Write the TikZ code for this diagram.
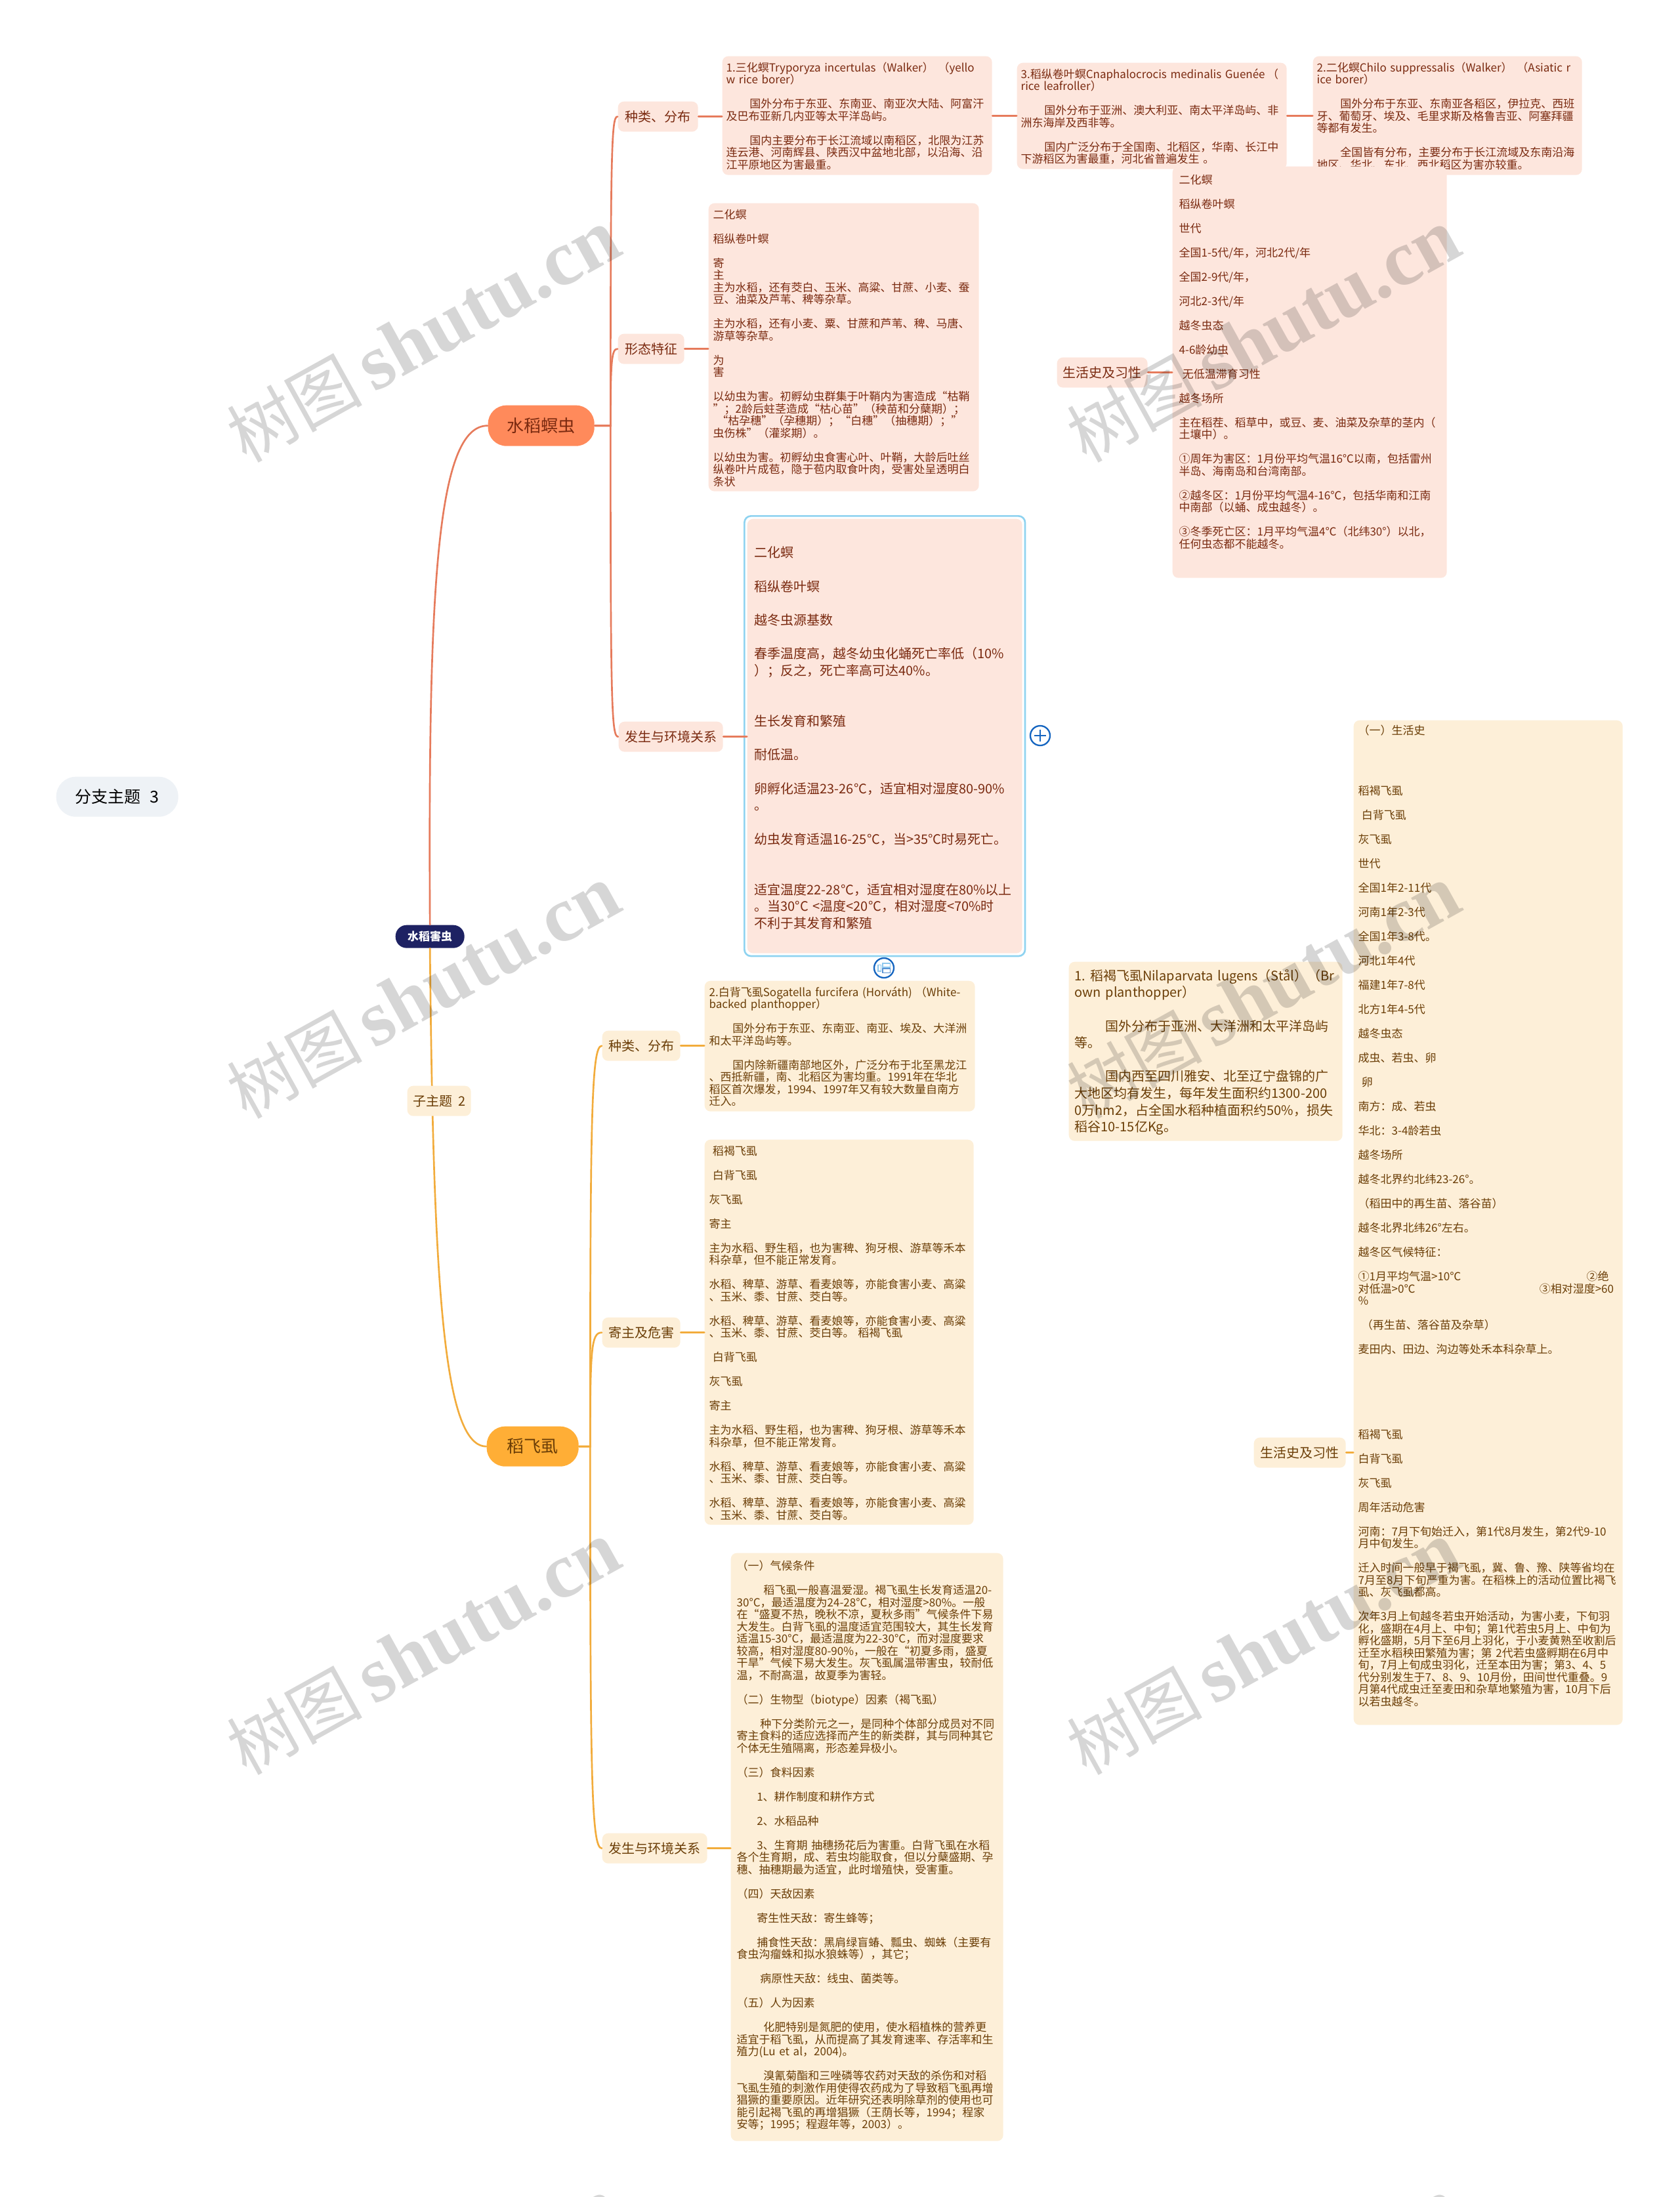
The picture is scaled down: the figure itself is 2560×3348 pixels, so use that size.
\documentclass[tikz,border=0pt]{standalone}
\usepackage{fontspec}
\setmainfont{Noto Sans CJK SC}
\newfontfamily\markfont{Liberation Serif}
\usepackage{xcolor}
\definecolor{pinkfill}{HTML}{FDE6DD}
\definecolor{pinktext}{HTML}{7A2A10}
\definecolor{pinkline}{HTML}{E67B5C}
\definecolor{pinktopic}{HTML}{FF8A5B}
\definecolor{orangefill}{HTML}{FDEFD8}
\definecolor{orangetext}{HTML}{6B3E07}
\definecolor{orangeline}{HTML}{F2AC3C}
\definecolor{orangetopic}{HTML}{FFAE36}
\definecolor{hubfill}{HTML}{1E2263}
\definecolor{floatfill}{HTML}{EEF2F6}
\definecolor{framecolor}{HTML}{8FD3F0}
\definecolor{iconblue}{HTML}{1565C0}
\definecolor{iconlight}{HTML}{8EC8EE}
\def\px{0.3pt}
\newcommand{\pindent}[1]{\hspace*{#1em}}
\newcommand{\gapline}{\mbox{}\\}
\lefthyphenmin=64
\normallineskiplimit=-100pt
\lineskiplimit=-100pt
\tikzset{
  smallfont/.style={font=\fontsize{5.1}{5.55}\selectfont},
  largefont/.style={font=\fontsize{6}{7.7}\selectfont},
  note/.style n args={4}{anchor=north west,rounded corners=2.7pt,inner ysep=0pt,inner xsep=#4*\px,
    text width={(#1-2*#4)*\px},text height={#3*\px},text depth={(#2-#3)*\px},align=left},
  pill/.style n args={3}{anchor=north west,inner sep=0pt,minimum width=#1*\px,minimum height=#2*\px,
    rounded corners=#3*\px,align=center},
  pinknote/.style={fill=pinkfill,text=pinktext},
  orangenote/.style={fill=orangefill,text=orangetext},
  branch/.style={pill={#1}{46}{9},font=\fontsize{6}{7}\selectfont},
  pinkwire/.style={draw=pinkline,line width=0.8pt,line cap=round},
  orangewire/.style={draw=orangeline,line width=0.8pt,line cap=round},
  iconring/.style={circle,draw=iconblue,line width=0.7pt,fill=white,inner sep=0pt,minimum size=9pt},
  watermark/.style={rotate=29,text=black,text opacity=0.16,inner sep=0pt}
}
\newcommand{\marktext}{{\fontsize{31}{32}\selectfont 树图}\hspace{5pt}{\markfont\bfseries\fontsize{36}{37}\selectfont shutu.cn}}
\begin{document}
\begin{tikzpicture}[x=0.3pt,y=-0.3pt]
    \useasboundingbox (0,0) rectangle (2560,3348);
    % free topic
    \node[pill={186}{61}{30},fill=floatfill,font=\fontsize{7.5}{9}\selectfont] (floating) at (85,1183) {分支主题\hspace{0.55em}3};
    % hub and main topics
    \node[pill={105}{35}{17},fill=hubfill,text=white,font=\fontsize{5.1}{6}\selectfont\bfseries] (hub) at (602,1409) {水稻害虫};
    \node[pill={162}{62}{28},fill=pinktopic,text=pinktext,font=\fontsize{7.8}{9}\selectfont] (borer) at (743,617) {水稻螟虫};
    \node[pill={140}{61}{28},fill=orangetopic,text=orangetext,font=\fontsize{7.8}{9}\selectfont] (hopper) at (741,2173) {稻飞虱};
    % main curves
    \draw[pinkwire] (hub.north) .. controls +(-3,-510) and +(-78,0) .. (borer.west);
    \draw[orangewire] (hub.south) .. controls +(5,507) and +(-66,0) .. (hopper.west);
    \node[branch=97,fill=orangefill,text=orangetext] (subtopic) at (620,1654) {子主题\hspace{0.45em}2};
    % borer branches
    \node[branch=122,fill=pinkfill,text=pinktext] (borerkind) at (941,154) {种类、分布};
    \node[branch=101,fill=pinkfill,text=pinktext] (borerform) at (941,508) {形态特征};
    \node[branch=159,fill=pinkfill,text=pinktext] (borerenv) at (942,1099) {发生与环境关系};
    \node[branch=138,fill=pinkfill,text=pinktext] (borerlife) at (1610,544) {生活史及习性};
    \draw[pinkwire] (borer.east) -- ++(24,0) .. controls +(0,-430) and +(-9,0) .. (borerkind.west);
    \draw[pinkwire] (borer.east) -- ++(24,0) .. controls +(0,-100) and +(-9,0) .. (borerform.west);
    \draw[pinkwire] (borer.east) -- ++(24,0) .. controls +(0,430) and +(-10,0) .. (borerenv.west);
    % borer notes, kinds
    \node[note={411}{181}{23.5}{6},pinknote,smallfont] (notesan) at (1100,85) {1.三化螟Tryporyza~incertulas（Walker）\hspace{0.4em}（yello\\
w~rice~borer）\\
\gapline
\pindent{2.1}国外分布于东亚、东南亚、南亚次大陆、阿富汗\\
及巴布亚新几内亚等太平洋岛屿。\\
\gapline
\pindent{2.1}国内主要分布于长江流域以南稻区，北限为江苏\\
连云港、河南辉县、陕西汉中盆地北部，以沿海、沿\\
江平原地区为害最重。};
    \node[note={411}{162}{23.5}{6},pinknote,smallfont] (notezong) at (1549,95) {3.稻纵卷叶螟Cnaphalocrocis~medinalis~Guenée\hspace{0.2em}（\\
rice~leafroller）\\
\gapline
\pindent{2.1}国外分布于亚洲、澳大利亚、南太平洋岛屿、非\\
洲东海岸及西非等。\\
\gapline
\pindent{2.1}国内广泛分布于全国南、北稻区，华南、长江中\\
下游稻区为害最重，河北省普遍发生~。};
    \node[note={410}{181}{23.5}{6},pinknote,smallfont] (noteer) at (2000,85) {2.二化螟Chilo~suppressalis（Walker）\hspace{0.4em}（Asiatic~r\\
ice~borer）\\
\gapline
\pindent{2.1}国外分布于东亚、东南亚各稻区，伊拉克、西班\\
牙、葡萄牙、埃及、毛里求斯及格鲁吉亚、阿塞拜疆\\
等都有发生。\\
\gapline
\pindent{2.1}全国皆有分布，主要分布于长江流域及东南沿海\\
地区、华北、东北、西北稻区为害亦较重。};
    \draw[pinkwire,line width=0.9pt] (borerkind.east) -- (borerkind.east -| notesan.west);
    \draw[pinkwire,line width=0.9pt] (notesan.east) -- (notesan.east -| notezong.west);
    \draw[pinkwire,line width=0.9pt] (notezong.east) -- (notezong.east -| noteer.west);
    % borer notes, form
    \node[note={412}{439}{23.5}{7},pinknote,smallfont] (noteform) at (1079,309) {二化螟\\
\gapline
稻纵卷叶螟\\
\gapline
寄\\
主\\
主为水稻，还有茭白、玉米、高粱、甘蔗、小麦、蚕\\
豆、油菜及芦苇、稗等杂草。\\
\gapline
主为水稻，还有小麦、粟、甘蔗和芦苇、稗、马唐、\\
游草等杂草。\\
\gapline
为\\
害\\
\gapline
以幼虫为害。初孵幼虫群集于叶鞘内为害造成“枯鞘\\
”；2龄后蛀茎造成“枯心苗”（秧苗和分蘖期）；\\
~“枯孕穗”（孕穗期）；“白穗”（抽穗期）；”\\
虫伤株”（灌浆期）。\\
\gapline
以幼虫为害。初孵幼虫食害心叶、叶鞘，大龄后吐丝\\
纵卷叶片成苞，隐于苞内取食叶肉，受害处呈透明白\\
条状};
    \draw[pinkwire,line width=0.9pt] (borerform.east) -- (borerform.east -| noteform.west);
    % borer notes, life history
    \node[note={418}{627}{26.5}{10},pinknote,smallfont] (notelife) at (1786,253) {二化螟\\
\gapline
稻纵卷叶螟\\
\gapline
世代\\
\gapline
全国1-5代/年，河北2代/年\\
\gapline
全国2-9代/年，\\
\gapline
河北2-3代/年\\
\gapline
越冬虫态\\
\gapline
4-6龄幼虫\\
\gapline
\pindent{0.3}无低温滞育习性\\
\gapline
越冬场所\\
\gapline
主在稻茬、稻草中，或豆、麦、油菜及杂草的茎内（\\
土壤中）。\\
\gapline
①周年为害区：1月份平均气温16℃以南，包括雷州\\
半岛、海南岛和台湾南部。\\
\gapline
②越冬区：1月份平均气温4-16℃，包括华南和江南\\
中南部（以蛹、成虫越冬）。\\
\gapline
③冬季死亡区：1月平均气温4℃（北纬30°）以北，\\
任何虫态都不能越冬。};
    \draw[pinkwire,line width=0.9pt] (borerlife.east) -- (borerlife.east -| notelife.west);
    % borer notes, environment, with frame and icons
    \node[note={419}{662}{59}{11},pinknote,largefont] (noteenv) at (1138,790) {二化螟\\
\gapline
稻纵卷叶螟\\
\gapline
越冬虫源基数\\
\gapline
春季温度高，越冬幼虫化蛹死亡率低（10\%\\
）；反之，死亡率高可达40\%。\\
\gapline
\gapline
生长发育和繁殖\\
\gapline
耐低温。\\
\gapline
卵孵化适温23-26°C，适宜相对湿度80-90\%\\
。\\
\gapline
幼虫发育适温16-25°C，当>35°C时易死亡。\\
\gapline
\gapline
适宜温度22-28°C，适宜相对湿度在80\%以上\\
。当30°C~<温度<20°C，相对湿度<70\%时\\
不利于其发育和繁殖};
    \draw[framecolor,line width=0.8pt,rounded corners=3pt] ([xshift=-1.1pt,yshift=1.1pt]noteenv.north west) rectangle ([xshift=1.1pt,yshift=-1.1pt]noteenv.south east);
    \draw[pinkwire,line width=0.9pt] (borerenv.east) -- (borerenv.east -| noteenv.west);
    \node[iconring] (addicon) at (1585,1121) {};
    \draw[iconblue,line width=0.7pt] ([xshift=-2.7pt]addicon.center) -- ([xshift=2.7pt]addicon.center);
    \draw[iconblue,line width=0.7pt] ([yshift=-2.7pt]addicon.center) -- ([yshift=2.7pt]addicon.center);
    \node[iconring] (listicon) at (1347,1475) {};
    \draw[iconlight,line width=0.5pt] ([xshift=-2.8pt,yshift=1.4pt]listicon.center) rectangle ([xshift=-1.4pt,yshift=-1.4pt]listicon.center);
    \draw[iconlight,line width=0.5pt] ([xshift=-0.6pt,yshift=2.2pt]listicon.center) rectangle ([xshift=2.8pt,yshift=0.3pt]listicon.center);
    \draw[iconblue!70,line width=0.5pt] ([xshift=-0.6pt,yshift=-0.3pt]listicon.center) rectangle ([xshift=2.8pt,yshift=-2.2pt]listicon.center);
    % planthopper branches
    \node[branch=119,fill=orangefill,text=orangetext] (hopperkind) at (917,1570) {种类、分布};
    \node[branch=119,fill=orangefill,text=orangetext] (hopperhost) at (917,2007) {寄主及危害};
    \node[branch=160,fill=orangefill,text=orangetext] (hopperenv) at (917,2793) {发生与环境关系};
    \node[branch=140,fill=orangefill,text=orangetext] (hopperlife) at (1910,2190) {生活史及习性};
    \draw[orangewire] (hopper.east) -- ++(17,0) .. controls +(0,-500) and +(-16,0) .. (hopperkind.west);
    \draw[orangewire] (hopper.east) -- ++(17,0) .. controls +(0,-150) and +(-16,0) .. (hopperhost.west);
    \draw[orangewire] (hopper.east) -- ++(17,0) .. controls +(0,500) and +(-16,0) .. (hopperenv.west);
    % planthopper notes
    \node[note={412}{199}{23.5}{7},orangenote,smallfont] (notewhite) at (1073,1494) {2.白背飞虱Sogatella~furcifera~(Horváth)\hspace{0.3em}（White-\\
backed~planthopper）\\
\gapline
\pindent{2.1}国外分布于东亚、东南亚、南亚、埃及、大洋洲\\
和太平洋岛屿等。\\
\gapline
\pindent{2.1}国内除新疆南部地区外，广泛分布于北至黑龙江\\
、西抵新疆，南、北稻区为害均重。1991年在华北\\
稻区首次爆发，1994、1997年又有较大数量自南方\\
迁入。};
    \node[note={417}{273}{28.6}{9},orangenote,font=\fontsize{6}{7.68}\selectfont] (notebrown) at (1628,1465) {1.~稻褐飞虱Nilaparvata~lugens（Stål）（Br\\
own~planthopper）\\
\gapline
\pindent{2.35}国外分布于亚洲、大洋洲和太平洋岛屿\\
等。\\
\gapline
\pindent{2.35}国内西至四川雅安、北至辽宁盘锦的广\\
大地区均有发生，每年发生面积约1300-200\\
0万hm2，占全国水稻种植面积约50\%，损失\\
稻谷10-15亿Kg。};
    \node[note={410}{587}{23.5}{7},orangenote,smallfont] (notehost) at (1073,1736) {\pindent{0.3}稻褐飞虱\\
\gapline
\pindent{0.3}白背飞虱\\
\gapline
灰飞虱\\
\gapline
寄主\\
\gapline
主为水稻、野生稻，也为害稗、狗牙根、游草等禾本\\
科杂草，但不能正常发育。\\
\gapline
水稻、稗草、游草、看麦娘等，亦能食害小麦、高粱\\
、玉米、黍、甘蔗、茭白等。\\
\gapline
水稻、稗草、游草、看麦娘等，亦能食害小麦、高粱\\
、玉米、黍、甘蔗、茭白等。~稻褐飞虱\\
\gapline
\pindent{0.3}白背飞虱\\
\gapline
灰飞虱\\
\gapline
寄主\\
\gapline
主为水稻、野生稻，也为害稗、狗牙根、游草等禾本\\
科杂草，但不能正常发育。\\
\gapline
水稻、稗草、游草、看麦娘等，亦能食害小麦、高粱\\
、玉米、黍、甘蔗、茭白等。\\
\gapline
水稻、稗草、游草、看麦娘等，亦能食害小麦、高粱\\
、玉米、黍、甘蔗、茭白等。};
    \node[note={415}{896}{26}{9},orangenote,smallfont] (notehenv) at (1113,2366) {（一）气候条件\\
\gapline
\pindent{2.4}稻飞虱一般喜温爱湿。褐飞虱生长发育适温20-\\
30°C，最适温度为24-28°C，相对湿度>80\%。一般\\
在“盛夏不热，晚秋不凉，夏秋多雨”气候条件下易\\
大发生。白背飞虱的温度适宜范围较大，其生长发育\\
适温15-30°C，最适温度为22-30°C，而对湿度要求\\
较高，相对湿度80-90\%，一般在“初夏多雨，盛夏\\
干旱”气候下易大发生。灰飞虱属温带害虫，较耐低\\
温，不耐高温，故夏季为害轻。\\
\gapline
（二）生物型（biotype）因素（褐飞虱）\\
\gapline
\pindent{2.1}种下分类阶元之一，是同种个体部分成员对不同\\
寄主食料的适应选择而产生的新类群，其与同种其它\\
个体无生殖隔离，形态差异极小。\\
\gapline
（三）食料因素\\
\gapline
\pindent{1.8}1、耕作制度和耕作方式\\
\gapline
\pindent{1.8}2、水稻品种\\
\gapline
\pindent{1.8}3、生育期~抽穗扬花后为害重。白背飞虱在水稻\\
各个生育期，成、若虫均能取食，但以分蘖盛期、孕\\
穗、抽穗期最为适宜，此时增殖快，受害重。\\
\gapline
（四）天敌因素\\
\gapline
\pindent{1.8}寄生性天敌：寄生蜂等；\\
\gapline
\pindent{1.8}捕食性天敌：黑肩绿盲蝽、瓢虫、蜘蛛（主要有\\
食虫沟瘤蛛和拟水狼蛛等），其它；\\
\gapline
\pindent{2.1}病原性天敌：线虫、菌类等。\\
\gapline
（五）人为因素\\
\gapline
\pindent{2.4}化肥特别是氮肥的使用，使水稻植株的营养更\\
适宜于稻飞虱，从而提高了其发育速率、存活率和生\\
殖力(Lu~et~al，2004)。\\
\gapline
\pindent{2.4}溴氰菊酯和三唑磷等农药对天敌的杀伤和对稻\\
飞虱生殖的刺激作用使得农药成为了导致稻飞虱再增\\
猖獗的重要原因。近年研究还表明除草剂的使用也可\\
能引起褐飞虱的再增猖獗（王荫长等，1994；程家\\
安等；1995；程遐年等，2003）。};
    \node[note={410}{1531}{21.5}{7},orangenote,smallfont] (notehlife) at (2062,1097) {（一）生活史\\
\gapline
\gapline
\gapline
\gapline
稻褐飞虱\\
\gapline
\pindent{0.3}白背飞虱\\
\gapline
灰飞虱\\
\gapline
世代\\
\gapline
全国1年2-11代\\
\gapline
河南1年2-3代\\
\gapline
全国1年3-8代。\\
\gapline
河北1年4代\\
\gapline
福建1年7-8代\\
\gapline
北方1年4-5代\\
\gapline
越冬虫态\\
\gapline
成虫、若虫、卵\\
\gapline
\pindent{0.3}卵\\
\gapline
南方：成、若虫\\
\gapline
华北：3-4龄若虫\\
\gapline
越冬场所\\
\gapline
越冬北界约北纬23-26°。\\
\gapline
（稻田中的再生苗、落谷苗）\\
\gapline
越冬北界北纬26°左右。\\
\gapline
越冬区气候特征：\\
\gapline
\makebox[20.47em][l]{①1月平均气温>10℃}②绝\\
\makebox[16.24em][l]{对低温>0℃}③相对湿度>60\\
\%\\
\gapline
\pindent{0.3}（再生苗、落谷苗及杂草）\\
\gapline
麦田内、田边、沟边等处禾本科杂草上。\\
\gapline
\gapline
\gapline
\gapline
\gapline
\gapline
稻褐飞虱\\
\gapline
白背飞虱\\
\gapline
灰飞虱\\
\gapline
周年活动危害\\
\gapline
河南：7月下旬始迁入，第1代8月发生，第2代9-10\\
月中旬发生。\\
\gapline
迁入时间一般早于褐飞虱，冀、鲁、豫、陕等省均在\\
7月至8月下旬严重为害。在稻株上的活动位置比褐飞\\
虱、灰飞虱都高。\\
\gapline
次年3月上旬越冬若虫开始活动，为害小麦，下旬羽\\
化，盛期在4月上、中旬；第1代若虫5月上、中旬为\\
孵化盛期，5月下至6月上羽化，于小麦黄熟至收割后\\
迁至水稻秧田繁殖为害；第~2代若虫盛孵期在6月中\\
旬，7月上旬成虫羽化，迁至本田为害；第3、4、5\\
代分别发生于7、8、9、10月份，田间世代重叠。9\\
月第4代成虫迁至麦田和杂草地繁殖为害，10月下后\\
以若虫越冬。};
    \draw[orangewire,line width=0.9pt] (hopperkind.east) -- (hopperkind.east -| notewhite.west);
    \draw[orangewire,line width=0.9pt] (hopperhost.east) -- (hopperhost.east -| notehost.west);
    \draw[orangewire,line width=0.9pt] (hopperenv.east) -- (hopperenv.east -| notehenv.west);
    \draw[orangewire,line width=0.9pt] (hopperlife.east) -- (hopperlife.east -| notehlife.west);
    % watermarks
    \node[watermark] (mark1) at (645,512) {\marktext};
    \node[watermark] (mark2) at (1925,512) {\marktext};
    \node[watermark] (mark3) at (645,1512) {\marktext};
    \node[watermark] (mark4) at (1925,1512) {\marktext};
    \node[watermark] (mark5) at (645,2512) {\marktext};
    \node[watermark] (mark6) at (1925,2512) {\marktext};
    \node[watermark] (mark7) at (645,3512) {\marktext};
    \node[watermark] (mark8) at (1925,3512) {\marktext};
\end{tikzpicture}
\end{document}
